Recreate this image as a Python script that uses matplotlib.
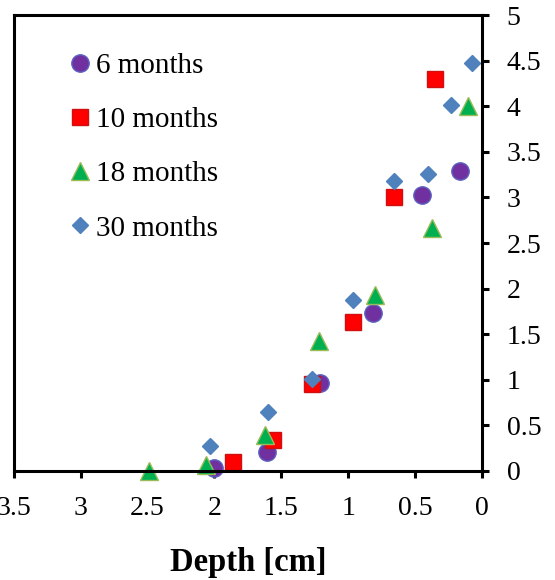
import matplotlib
matplotlib.use('Agg')
from matplotlib import pyplot as plt

plt.rcParams['font.family'] = ['Liberation Serif', 'DejaVu Serif']

# depth [cm] and value per survey age
x_6 = [2.00, 1.61, 1.21, 0.81, 0.45, 0.16]
y_6 = [0.03, 0.21, 0.97, 1.73, 3.03, 3.29]

x_10 = [1.86, 1.56, 1.27, 0.96, 0.66, 0.35]
y_10 = [0.10, 0.34, 0.95, 1.63, 3.00, 4.30]

x_18 = [2.49, 2.06, 1.62, 1.22, 0.80, 0.37, 0.10]
y_18 = [0.00, 0.07, 0.39, 1.43, 1.93, 2.67, 4.00]

x_30 = [2.03, 1.60, 1.27, 0.96, 0.66, 0.40, 0.23, 0.07]
y_30 = [0.27, 0.65, 1.01, 1.87, 3.18, 3.26, 4.01, 4.47]

labels = ['6 months', '10 months', '18 months', '30 months']

fig = plt.figure(figsize=(5.55, 5.8), dpi=100)
ax = fig.add_axes([0.025, 0.188, 0.843, 0.786])

ax.plot(x_6, y_6, 'o', ms=12.5, color='#7030A0', mec='#5B62C0', mew=1, label=labels[0], clip_on=False)
ax.plot(x_10, y_10, 's', ms=11.5, color='#FF0000', mec='#D01010', mew=1, label=labels[1], clip_on=False)
ax.plot(x_18, y_18, '^', ms=12.5, color='#00B050', mec='#9BBB59', mew=1, label=labels[2], clip_on=False)
ax.plot(x_30, y_30, 'D', ms=8, color='#4F81BD', mec='#4F81BD', mew=1, label=labels[3], clip_on=False)

ax.set_xlim(3.5, 0)
ax.set_ylim(0, 5)
ax.set_xticks([3.5, 3, 2.5, 2, 1.5, 1, 0.5, 0])
ax.set_xticklabels(['3.5', '3', '2.5', '2', '1.5', '1', '0.5', '0'])
ax.set_yticks([0, 0.5, 1, 1.5, 2, 2.5, 3, 3.5, 4, 4.5, 5])
ax.set_yticklabels(['0', '0.5', '1', '1.5', '2', '2.5', '3', '3.5', '4', '4.5', '5'])
ax.yaxis.tick_right()

for s in ax.spines.values():
    s.set_linewidth(2.2)
ax.tick_params(axis='both', width=2.2, length=5, labelsize=20, direction='out')
ax.tick_params(axis='x', pad=13)
ax.tick_params(axis='y', pad=13)

ax.set_xlabel('Depth [cm]', fontsize=23.5, fontweight='bold', labelpad=19)

ax.legend(loc='upper left', bbox_to_anchor=(0.094, 0.943), frameon=False, fontsize=21,
          handlelength=0.7, handletextpad=0.2, labelspacing=0.95, borderaxespad=0)

fig.savefig('out.png', dpi=100)
